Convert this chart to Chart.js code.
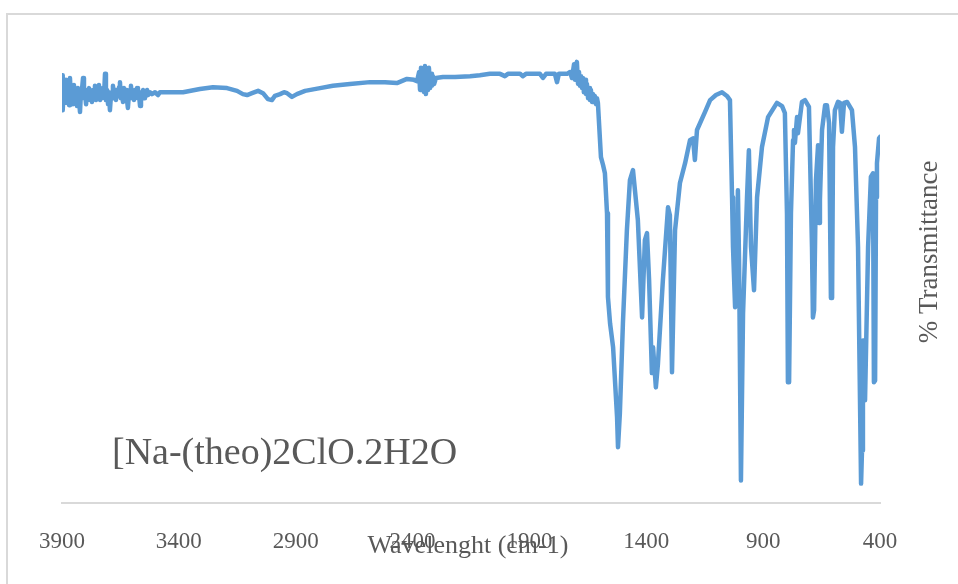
<!DOCTYPE html>
<html>
<head>
<meta charset="utf-8">
<script src="https://cdn.jsdelivr.net/npm/chart.js@4.4.1/dist/chart.umd.min.js"></script>
<style>
  html, body { margin: 0; padding: 0; background: #ffffff; }
  #wrap { position: relative; width: 958px; height: 584px; overflow: hidden; }
  #frame { position: absolute; left: 6px; top: 13px; width: 1100px; height: 1100px; border: 2px solid #d9d9d9; box-sizing: border-box; }
  canvas { position: absolute; left: 0; top: 0; }
</style>
</head>
<body>
<div id="wrap">
  <div id="frame"></div>
  <canvas id="c" width="958" height="584"></canvas>
</div>
<script>
// Wavenumbers (cm-1)
const wavenumbers = [
  3900, 3898, 3896, 3891, 3887, 3883, 3879, 3874, 3870, 3866, 3861, 3857, 3853, 3849, 3844, 3840,
  3836, 3832, 3827, 3823, 3819, 3814, 3810, 3806, 3802, 3797, 3793, 3789, 3784, 3780, 3776, 3772,
  3767, 3763, 3759, 3755, 3750, 3746, 3742, 3737, 3733, 3729, 3725, 3720, 3716, 3712, 3707, 3703,
  3699, 3695, 3690, 3686, 3682, 3678, 3673, 3669, 3665, 3660, 3656, 3652, 3648, 3643, 3639, 3635,
  3630, 3626, 3622, 3618, 3613, 3609, 3605, 3600, 3596, 3592, 3588, 3583, 3579, 3575, 3571, 3566,
  3562, 3558, 3553, 3549, 3545, 3541, 3536, 3532, 3523, 3515, 3502, 3489, 3481,
  3438, 3382, 3310, 3254, 3194, 3151, 3126, 3108, 3087, 3061, 3040, 3019, 3002, 2989, 2967, 2950,
  2937, 2916, 2895, 2860, 2796, 2741, 2668, 2582, 2518, 2467, 2424, 2394, 2381,
  2372, 2368, 2364, 2360, 2355, 2351, 2347, 2343, 2338, 2334, 2330, 2325, 2321, 2317, 2313, 2308, 2300,
  2270, 2218, 2154, 2112, 2069, 2026, 2005, 1992, 1940, 1928, 1915, 1855, 1842, 1829, 1791, 1782, 1774, 1739,
  1726, 1718, 1709, 1705, 1701, 1697, 1692, 1688, 1684, 1679, 1675, 1671, 1667, 1662, 1658, 1654,
  1649, 1645, 1641, 1637, 1632, 1628, 1624, 1620, 1615, 1611, 1607,
  1594, 1585, 1577, 1568, 1564, 1555, 1542, 1525, 1521, 1513, 1500, 1483, 1470, 1457, 1436, 1418,
  1406, 1397, 1388, 1376, 1371, 1359, 1350, 1329, 1307, 1299, 1290, 1277, 1256, 1234, 1213, 1200,
  1192, 1183, 1149, 1127, 1102, 1076, 1055, 1042, 1033, 1029, 1020, 1016, 1008, 1003, 995, 986,
  969, 961, 952, 939, 926, 905, 879, 841, 819, 807, 798, 794, 789, 781, 772, 768,
  764, 755, 751, 734, 721, 704, 691, 687, 682, 674, 665, 661, 657, 648, 635, 627,
  618, 610, 605, 601, 593, 580, 571, 563, 554, 541, 520, 507, 494, 481, 477, 473,
  469, 464, 451, 439, 430, 426, 421, 417, 413, 404, 400
];
// % Transmittance (relative units)
const transmittance = [
  88.7, 93.0, 85.4, 90.9, 87.0, 92.0, 87.6, 90.2, 86.5, 92.4, 87.6, 89.8, 86.7, 90.9, 88.0, 89.3,
  86.3, 90.2, 87.6, 85.0, 89.3, 90.2, 92.4, 88.0, 89.3, 86.7, 89.8, 88.5, 90.2, 87.6, 88.9, 87.2,
  89.8, 88.5, 90.7, 87.6, 89.3, 88.5, 90.9, 87.6, 89.8, 88.0, 90.2, 88.7, 93.3, 87.6, 89.8, 86.7,
  89.3, 85.4, 88.9, 88.0, 90.7, 88.5, 89.8, 87.6, 89.3, 88.5, 90.4, 91.5, 88.0, 89.3, 87.2, 90.2,
  88.5, 89.8, 87.6, 85.9, 89.3, 88.5, 90.7, 88.0, 89.3, 87.6, 89.8, 88.5, 90.2, 88.0, 88.9, 86.3,
  89.3, 88.5, 89.8, 88.0, 89.3, 88.5, 89.8, 88.7, 89.3, 88.9, 89.3, 88.7, 89.3,
  89.3, 89.3, 90.0, 90.4, 90.2, 89.6, 88.9, 88.7, 89.1, 89.6, 89.1, 87.8, 87.6, 88.5, 88.9, 89.3,
  89.1, 88.3, 88.9, 89.6, 90.2, 90.7, 91.1, 91.5, 91.5, 91.3, 92.2, 92.0, 91.7,
  93.7, 89.8, 94.6, 90.2, 94.1, 89.3, 95.0, 88.9, 93.7, 89.8, 94.6, 90.2, 93.3, 90.7, 92.8, 91.1, 92.4,
  92.6, 92.6, 92.8, 93.0, 93.3, 93.3, 92.8, 93.3, 93.3, 92.8, 93.3, 93.3, 92.4, 93.3, 93.3, 91.5, 93.3, 93.3,
  93.7, 92.4, 95.4, 92.0, 94.1, 95.9, 91.1, 93.7, 90.7, 92.8, 90.2, 92.4, 89.3, 92.0, 88.9, 91.1,
  88.0, 90.2, 87.6, 89.8, 87.2, 88.9, 87.6, 88.5, 86.7, 88.0, 87.0,
  75.2, 73.5, 71.7, 63.0, 44.8, 39.1, 33.9, 18.7, 12.2, 19.6, 39.1, 59.3, 70.2, 72.4, 61.5, 40.4,
  57.2, 58.7, 48.5, 28.3, 33.9, 25.2, 30.4, 48.5, 64.3, 62.6, 28.5, 59.3, 69.6, 73.9, 78.9, 79.3,
  74.6, 81.1, 85.0, 87.6, 88.7, 89.3, 88.5, 87.6, 66.5, 55.7, 42.6, 44.1, 68.0, 52.8, 5.0, 41.3,
  66.5, 76.7, 55.7, 46.3, 66.5, 77.4, 83.9, 87.0, 86.3, 84.8, 63.0, 26.3, 26.3, 63.0, 78.9, 81.1,
  78.3, 83.9, 80.4, 87.2, 87.6, 86.1, 55.7, 40.4, 42.0, 70.2, 77.8, 60.9, 65.9, 81.1, 86.5, 86.5,
  82.6, 44.6, 44.6, 77.4, 85.4, 87.2, 87.0, 80.7, 87.0, 87.2, 85.4, 77.4, 55.7, 4.3, 11.5, 35.4,
  35.4, 22.4, 55.7, 70.9, 71.7, 26.3, 26.7, 66.5, 73.9, 79.3, 79.6
];
// Axis tick labels
const tickLabels = ['3900', '3400', '2900', '2400', '1900', '1400', '900', '400'];
const xTitle = 'Wavelenght (cm-1)';
const yTitle = '% Transmittance';
const annotation = '[Na-(theo)2ClO.2H2O';

const points = wavenumbers.map((w, i) => ({ x: w, y: transmittance[i] }));

const textPlugin = {
  id: 'texts',
  afterDraw(chart) {
    const { ctx, chartArea } = chart;
    ctx.save();
    // annotation inside plot
    ctx.fillStyle = '#595959';
    ctx.font = '38px "Liberation Serif"';
    ctx.textBaseline = 'alphabetic';
    ctx.textAlign = 'left';
    ctx.fillText(annotation, chartArea.left + 50, chartArea.bottom - 39);
    // x axis title (overlaps tick labels, as in the original)
    ctx.font = '26px "Liberation Serif"';
    ctx.textAlign = 'center';
    ctx.fillText(xTitle, (chartArea.left + chartArea.right) / 2 - 3, chartArea.bottom + 50);
    // y axis title at right, rotated
    ctx.translate(chartArea.right + 50, 252);
    ctx.rotate(-Math.PI / 2);
    ctx.font = '27px "Liberation Serif"';
    ctx.textAlign = 'center';
    ctx.textBaseline = 'middle';
    ctx.fillText(yTitle, 0, 0);
    ctx.restore();
  }
};

new Chart(document.getElementById('c'), {
  type: 'line',
  data: {
    datasets: [{
      data: points,
      borderColor: '#5b9bd5',
      borderWidth: 4.5,
      pointRadius: 0,
      tension: 0,
      fill: false,
      borderJoinStyle: 'round',
      borderCapStyle: 'round'
    }]
  },
  options: {
    responsive: false,
    animation: false,
    events: [],
    layout: { padding: { left: 62, right: 78, top: 43, bottom: 3 } },
    plugins: { legend: { display: false }, tooltip: { enabled: false } },
    scales: {
      x: {
        type: 'linear',
        reverse: true,
        min: 400,
        max: 3900,
        grid: { display: false, drawTicks: false },
        border: { display: true, color: '#d9d9d9', width: 2 },
        ticks: {
          stepSize: 500,
          padding: 25,
          color: '#595959',
          font: { family: 'Liberation Serif', size: 23 },
          maxRotation: 0,
          autoSkip: false,
          callback: (v) => tickLabels.includes(String(v)) ? String(v) : ''
        }
      },
      y: {
        display: false,
        min: 0,
        max: 100
      }
    }
  },
  plugins: [textPlugin]
});
</script>
</body>
</html>
